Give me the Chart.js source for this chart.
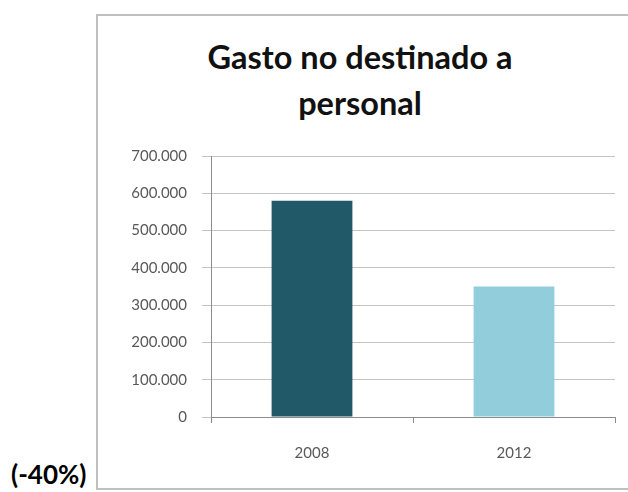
<!DOCTYPE html>
<html>
<head>
<meta charset="utf-8">
<script src="https://cdn.jsdelivr.net/npm/chart.js@4"></script>
<style>
  html, body { margin: 0; padding: 0; background: #fff; }
  #wrap { position: relative; width: 628px; height: 492px; overflow: hidden; }
  #frame { position: absolute; left: 96px; top: 14px; width: 560px; height: 472px;
           border: 2px solid #bfbfbf; box-sizing: content-box; }
  #title { position: absolute; left: 160px; width: 400px; top: 34px; text-align: center;
           font-family: Lato, sans-serif; font-weight: bold; font-size: 32.5px; line-height: 46px; color: #111; }
  #note { position: absolute; left: 11px; top: 459px; font-family: Lato, sans-serif;
          font-weight: bold; font-size: 26px; line-height: 30px; color: #000; }
  canvas { position: absolute; left: 0; top: 0; }
</style>
</head>
<body>
<div id="wrap">
  <div id="frame"></div>
  <div id="title">Gasto no destinado a<br>personal</div>
  <div id="note">(-40%)</div>
  <canvas id="c" width="628" height="492"></canvas>
</div>
<script>
const categories = ["2008", "2012"];
const values = [580000, 350000];
const barColors = ["#215968", "#92CDDC"];
const yMin = 0, yMax = 700000, yStep = 100000;

function fmt(v) {
  return String(Math.round(v)).replace(/\B(?=(\d{3})+(?!\d))/g, ".");
}

new Chart(document.getElementById("c"), {
  type: "bar",
  data: {
    labels: categories,
    datasets: [{
      data: values,
      backgroundColor: barColors,
      borderWidth: 0,
      categoryPercentage: 1.0,
      barPercentage: 0.4
    }]
  },
  options: {
    responsive: false,
    animation: false,
    layout: { padding: { left: 100, right: 13, top: 156, bottom: 0 } },
    plugins: { legend: { display: false }, title: { display: false }, tooltip: { enabled: false } },
    scales: {
      y: {
        min: yMin, max: yMax,
        afterFit: s => { s.width = 111; },
        ticks: {
          stepSize: yStep,
          padding: 15,
          color: "#595959",
          font: { family: "Lato", size: 15 },
          callback: v => fmt(v)
        },
        grid: { color: "#c4c4c4", lineWidth: 1, tickLength: 9, drawTicks: true },
        border: { color: "#8c8c8c", width: 1 }
      },
      x: {
        afterFit: s => { s.height = 75; },
        ticks: {
          padding: 21,
          color: "#595959",
          font: { family: "Lato", size: 15 }
        },
        grid: { drawOnChartArea: false, drawTicks: true, tickLength: 6, color: "#8c8c8c", offset: true },
        border: { color: "#8c8c8c", width: 1 }
      }
    }
  }
});
</script>
</body>
</html>
